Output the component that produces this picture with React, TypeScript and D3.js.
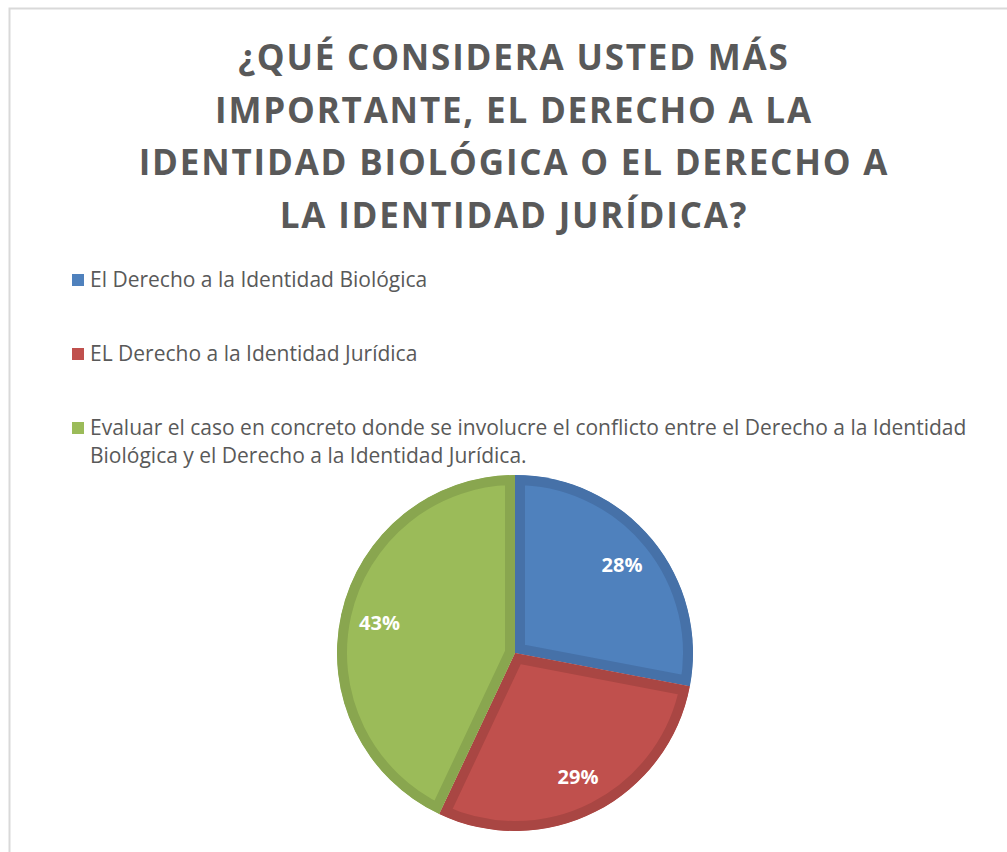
import { useEffect, useRef } from 'react';
import * as d3 from 'd3';

const titleLines = [
  '¿QUÉ CONSIDERA USTED MÁS',
  'IMPORTANTE, EL DERECHO A LA',
  'IDENTIDAD BIOLÓGICA O EL DERECHO A',
  'LA IDENTIDAD JURÍDICA?',
];

const categories = [
  'El Derecho a la Identidad Biológica',
  'EL Derecho a la Identidad Jurídica',
  'Evaluar el caso en concreto donde se involucre el conflicto entre el Derecho a la Identidad Biológica y el Derecho a la Identidad Jurídica.',
];
// legend text broken the way the chart wraps it
const legendLines = [
  ['El Derecho a la Identidad Biológica'],
  ['EL Derecho a la Identidad Jurídica'],
  [
    'Evaluar el caso en concreto donde se involucre el conflicto entre el Derecho a la Identidad',
    'Biológica y el Derecho a la Identidad Jurídica.',
  ],
];
const values = [28, 29, 43];
const fills = ['#4f81bd', '#c0504d', '#9bbb59'];
const edges = ['#4671a8', '#a94643', '#89a64f'];

type Slice = d3.PieArcDatum<number>;

function App() {
  const svgRef = useRef<SVGSVGElement>(null);

  useEffect(() => {
    const W = 1007;
    const H = 852;
    const svg = d3.select(svgRef.current).attr('width', W).attr('height', H);
    svg.selectAll('*').remove();

    // chart frame (runs past the right and bottom of the page)
    svg
      .append('rect')
      .attr('x', 9.5)
      .attr('y', 8.5)
      .attr('width', W + 20)
      .attr('height', H + 20)
      .attr('fill', '#fff')
      .attr('stroke', '#d9d9d9')
      .attr('stroke-width', 2);

    const font = "'Open Sans', 'DejaVu Sans', sans-serif";

    svg
      .append('g')
      .selectAll('text')
      .data(titleLines)
      .enter()
      .append('text')
      .attr('x', 514)
      .attr('y', (d, i) => 70 + i * 52.7)
      .attr('text-anchor', 'middle')
      .attr('font-family', font)
      .attr('font-weight', 700)
      .attr('font-size', 35)
      .attr('letter-spacing', 1.8)
      .attr('fill', '#595959')
      .text(d => d);

    const legend = svg.append('g').attr('transform', 'translate(72, 280)');
    categories.forEach((c, i) => {
      const row = legend.append('g').attr('transform', `translate(0, ${i * 74})`);
      row
        .append('rect')
        .attr('x', 0)
        .attr('y', -6)
        .attr('width', 12)
        .attr('height', 12)
        .attr('fill', fills[i]);
      legendLines[i].forEach((line, j) => {
        row
          .append('text')
          .attr('x', 18)
          .attr('y', 7 + j * 28)
          .attr('font-family', font)
          .attr('font-size', 21)
          .attr('fill', '#595959')
          .text(line);
      });
    });

    const cx = 515;
    const cy = 653;
    const r = 178;
    const pie = d3.pie<number>().sort(null).value(d => d);
    const arcs = pie(values);
    const arc = d3.arc<Slice>().innerRadius(0).outerRadius(r);
    const labelArc = d3.arc<Slice>().innerRadius(r * 0.78).outerRadius(r * 0.78);

    const g = svg.append('g').attr('transform', `translate(${cx},${cy})`);
    const defs = svg.append('defs');
    arcs.forEach((a, i) => {
      defs
        .append('clipPath')
        .attr('id', `slice-${i}`)
        .append('path')
        .attr('d', arc(a) as string);
      const s = g.append('g').attr('clip-path', `url(#slice-${i})`);
      s.append('path')
        .attr('d', arc(a) as string)
        .attr('fill', fills[i])
        .attr('stroke', edges[i])
        .attr('stroke-width', 20)
        .attr('stroke-linejoin', 'miter');
    });

    g.selectAll('text.pct')
      .data(arcs)
      .enter()
      .append('text')
      .attr('class', 'pct')
      .attr('transform', d => `translate(${labelArc.centroid(d)})`)
      .attr('text-anchor', 'middle')
      .attr('dy', '0.35em')
      .attr('font-family', font)
      .attr('font-weight', 700)
      .attr('font-size', 20)
      .attr('fill', '#fff')
      .text(d => `${d.data}%`);
  }, []);

  return <svg ref={svgRef} style={{ display: 'block', position: 'absolute', left: 0, top: 0 }} />;
}

export default App;
